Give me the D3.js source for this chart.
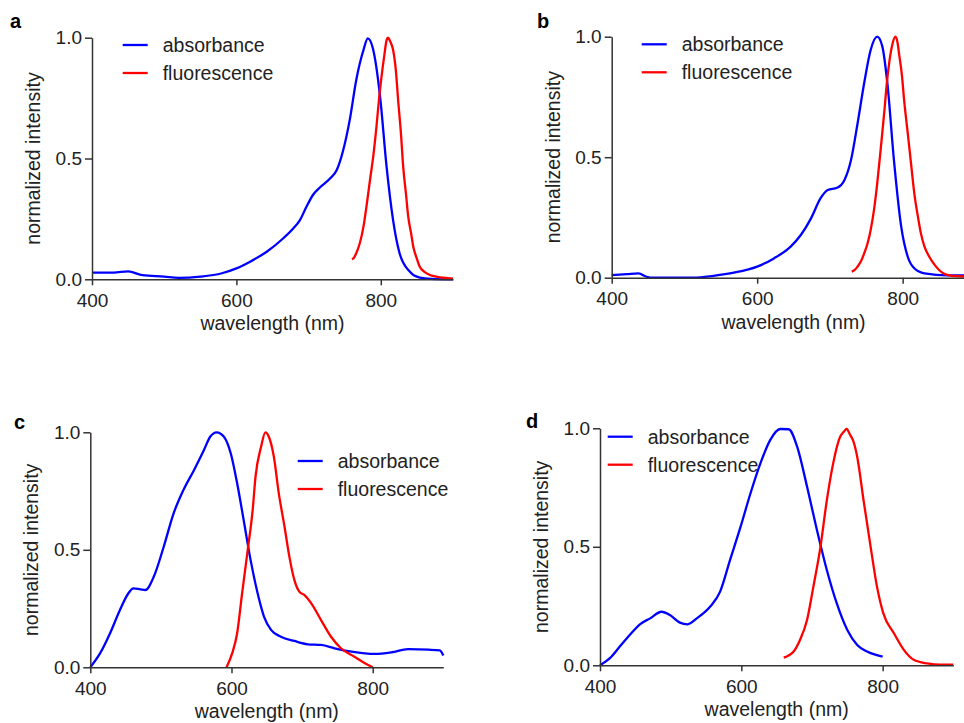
<!DOCTYPE html>
<html>
<head>
<meta charset="utf-8">
<script src="https://cdn.jsdelivr.net/npm/d3@7"></script>
<style>
  body { margin: 0; background: #fff; }
  svg { display: block; font-family: Arial, "Liberation Sans", sans-serif; }
  .tick text { font-size: 19px; fill: #222; }
  .domain, .tick line { stroke: #333; stroke-width: 1.5px; }
</style>
</head>
<body>
<div id="container"></div>
<script>
// wavelength ticks / intensity ticks
const xTicks = [400, 600, 800];
const yTicks = [0, 0.5, 1.0];

// panel a
const aAbsWl  = [400,430,450,470,500,520,550,580,600,619,642,665,679,688,697,706,716,729,739,748,757,766,776,782,789,799,808,817,826,840,854,870,900];
const aAbsVal = [0.028,0.028,0.033,0.017,0.011,0.006,0.011,0.025,0.045,0.073,0.114,0.170,0.211,0.245,0.300,0.349,0.381,0.415,0.452,0.535,0.660,0.825,0.949,0.997,0.956,0.756,0.466,0.245,0.108,0.032,0.007,0.002,0.0];
const aFlWl   = [760,763,766,771,776,781,785,790,794,798,801,805,808,810,813,817,821,824,828,831,835,838,842,845,850,854,861,868,875,882,890,900];
const aFlVal  = [0.083,0.090,0.108,0.150,0.218,0.320,0.410,0.520,0.632,0.760,0.839,0.930,0.990,1.000,0.985,0.950,0.860,0.742,0.600,0.466,0.350,0.259,0.190,0.135,0.085,0.052,0.030,0.018,0.012,0.008,0.006,0.003];

// panel b
const bAbsWl  = [400,421,437,448,457,480,513,540,568,600,623,646,660,674,687,697,710,720,729,738,747,756,765,772,779,788,798,807,816,830,862,885,900];
const bAbsVal = [0.011,0.015,0.018,0.004,0.0,0.0,0.0,0.008,0.021,0.046,0.080,0.129,0.177,0.246,0.329,0.364,0.373,0.405,0.488,0.640,0.806,0.945,1.000,0.960,0.806,0.488,0.212,0.087,0.039,0.018,0.010,0.010,0.010];
const bFlWl   = [730,734,738,743,747,752,756,761,765,770,775,778,782,786,790,793,795,799,802,807,812,816,821,825,830,837,844,850,858,864,871,885,900];
const bFlVal  = [0.025,0.032,0.046,0.070,0.100,0.145,0.198,0.290,0.390,0.540,0.696,0.800,0.903,0.970,1.000,0.975,0.930,0.840,0.737,0.600,0.460,0.350,0.253,0.185,0.129,0.085,0.053,0.032,0.015,0.010,0.007,0.005,0.005];

// panel c
const cAbsWl  = [400,414,428,442,454,461,471,478,490,504,518,532,547,561,570,579,589,599,608,618,627,637,646,656,670,689,708,727,746,770,803,827,850,879,895,900];
const cAbsVal = [0.0,0.060,0.145,0.244,0.315,0.336,0.332,0.329,0.386,0.513,0.655,0.755,0.840,0.925,0.982,1.000,0.982,0.910,0.783,0.613,0.457,0.315,0.216,0.159,0.130,0.112,0.098,0.095,0.081,0.067,0.057,0.064,0.077,0.075,0.072,0.050];
const cFlWl   = [593,601,608,615,623,630,634,642,648,653,660,667,675,682,689,696,703,713,727,741,755,774,789,800];
const cFlVal  = [0.0,0.060,0.145,0.315,0.500,0.670,0.810,0.940,1.000,0.980,0.896,0.740,0.600,0.470,0.372,0.322,0.308,0.272,0.200,0.130,0.081,0.045,0.017,0.0];

// panel d
const dAbsWl  = [400,414,428,443,457,471,487,499,513,524,537,556,570,584,599,613,627,641,655,667,679,693,707,721,735,750,764,778,800];
const dAbsVal = [0.0,0.030,0.079,0.131,0.174,0.198,0.226,0.212,0.180,0.173,0.198,0.248,0.311,0.444,0.585,0.726,0.852,0.951,0.997,0.996,0.923,0.754,0.571,0.402,0.262,0.149,0.086,0.058,0.037];
const dFlWl   = [660,674,683,693,702,712,721,730,740,745,749,754,758,764,773,783,792,801,816,830,844,863,882,900];
const dFlVal  = [0.032,0.058,0.107,0.191,0.332,0.500,0.696,0.852,0.965,0.985,0.997,0.972,0.950,0.880,0.696,0.500,0.332,0.219,0.135,0.065,0.023,0.008,0.003,0.003];

const panels = [
  {id:"a", left:92, right:453, top:37.7, bottom:279.3, letter:[10,28], legend:[122.7,45],
   abs:[aAbsWl,aAbsVal], fl:[aFlWl,aFlVal]},
  {id:"b", left:611.7, right:975.4, top:36.7, bottom:277.7, letter:[537,28], legend:[641.7,44.3],
   abs:[bAbsWl,bAbsVal], fl:[bFlWl,bFlVal]},
  {id:"c", left:90.3, right:443.3, top:432.3, bottom:667.3, letter:[14,429], legend:[297.7,461],
   abs:[cAbsWl,cAbsVal], fl:[cFlWl,cFlVal]},
  {id:"d", left:600, right:953.3, top:428.3, bottom:665.3, letter:[526,428], legend:[607.7,436.7],
   abs:[dAbsWl,dAbsVal], fl:[dFlWl,dFlVal]}
];

const svg = d3.select("#container")
              .append("svg")
              .attr("width",964)
              .attr("height",723);

panels.forEach(p => drawPanel(p));

function drawPanel(p){
  const x = d3.scaleLinear().domain([400,900]).range([p.left,p.right]);
  const y = d3.scaleLinear().domain([0,1]).range([p.bottom,p.top]);
  const g = svg.append("g").attr("id","panel-"+p.id);

  const line = d3.line()
                 .x(d => x(d[0]))
                 .y(d => y(d[1]))
                 .curve(d3.curveMonotoneX);

  const series = [[p.abs,"#0000ff"],[p.fl,"#ff0000"]];
  series.forEach(s => {
    const pts = s[0][0].map((w,i) => [w, s[0][1][i]]);
    g.append("path")
     .datum(pts)
     .attr("fill","none")
     .attr("stroke",s[1])
     .attr("stroke-width",2.3)
     .attr("stroke-linejoin","round")
     .attr("d",line);
  });

  g.append("g")
   .attr("transform","translate(0,"+p.bottom+")")
   .call(d3.axisBottom(x).tickValues(xTicks).tickSize(6).tickPadding(8).tickSizeOuter(0));

  g.append("g")
   .attr("transform","translate("+p.left+",0)")
   .call(d3.axisLeft(y).tickValues(yTicks).tickFormat(d3.format(".1f")).tickSize(7).tickPadding(3).tickSizeOuter(0));

  g.append("text")
   .attr("x",(p.left+p.right)/2)
   .attr("y",p.bottom+51)
   .attr("text-anchor","middle")
   .style("font-size","19.5px")
   .attr("fill","#222")
   .text("wavelength (nm)");

  g.append("text")
   .attr("transform","translate("+(p.left-52)+","+((p.top+p.bottom)/2)+") rotate(-90)")
   .attr("text-anchor","middle")
   .style("font-size","19.5px")
   .attr("fill","#222")
   .text("normalized intensity");

  g.append("text")
   .attr("x",p.letter[0])
   .attr("y",p.letter[1])
   .style("font-size","20px")
   .style("font-weight","bold")
   .text(p.id);

  const labels = [["absorbance","#0000ff"],["fluorescence","#ff0000"]];
  labels.forEach((l,i) => {
    const ly = p.legend[1] + i*28;
    g.append("line")
     .attr("x1",p.legend[0]).attr("x2",p.legend[0]+25)
     .attr("y1",ly).attr("y2",ly)
     .attr("stroke",l[1]).attr("stroke-width",2.3);
    g.append("text")
     .attr("x",p.legend[0]+40)
     .attr("y",ly)
     .attr("dy","0.35em")
     .style("font-size","19.5px")
     .attr("fill","#222")
     .text(l[0]);
  });
}
</script>
</body>
</html>
